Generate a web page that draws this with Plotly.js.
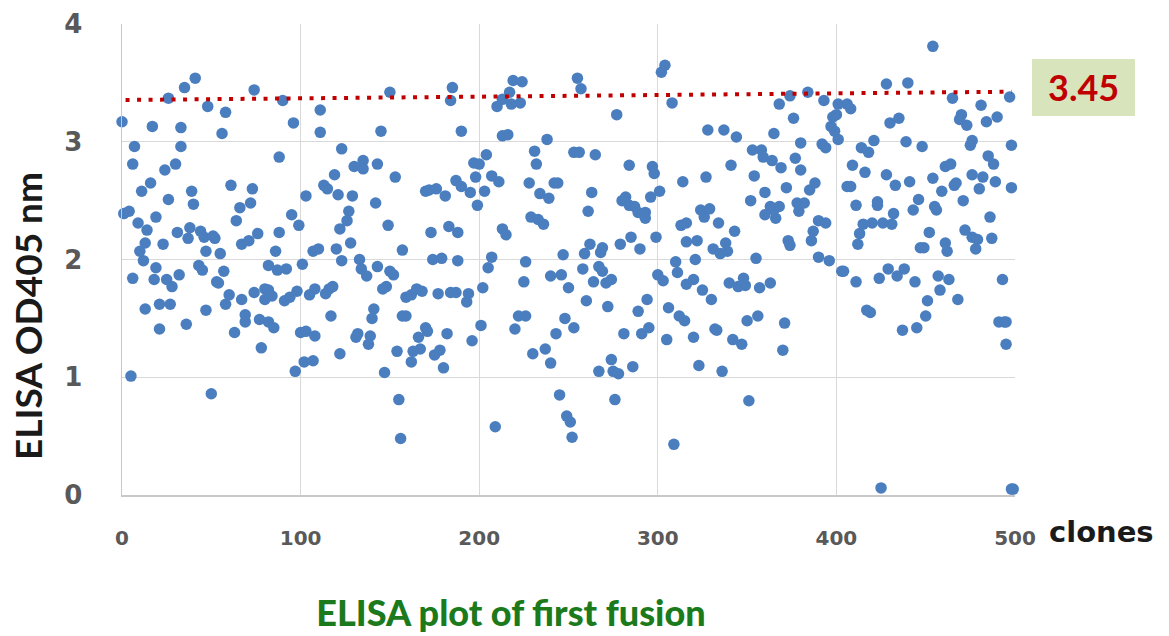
<!DOCTYPE html>
<html>
<head>
<meta charset="utf-8">
<script src="https://cdn.plot.ly/plotly-3.0.1.min.js"></script>
<style>html,body{margin:0;padding:0;background:#fff;}#chart{width:1169px;height:636px;}</style>
</head>
<body>
<div id="chart"></div>
<script>
// Clone number (x) and ELISA OD405 reading (y)
const cloneIds = [
  0,7,6,17,26,35,41,48,33,33,56,58,30,24,16,11,39,40,26,1,4,9,14,19,13,10,12,23,31,37,38,44,46,51,52,47,55,19,6,18,25,28,32,43,45,57,53,54,13,21,27,21,36,47,58,60,5,50,
  74,90,96,111,111,88,61,73,66,72,64,95,99,103,113,115,119,121,123,67,71,76,88,86,82,87,92,101,107,110,120,123,122,67,74,80,82,80,84,91,94,98,105,108,114,116,118,69,69,77,82,85,63,78,100,103,108,117,122,102,107,97,
  150,185,184,145,130,135,135,143,153,129,142,127,126,149,170,172,176,181,187,183,188,173,128,157,133,134,137,143,150,152,174,179,188,146,148,159,162,165,168,177,184,187,141,140,157,159,132,131,139,138,170,171,166,167,163,162,154,175,178,182,180,147,155,156,
  190,219,224,217,210,213,218,223,213,216,238,204,197,200,198,190,195,203,207,211,199,231,232,228,234,239,242,244,229,233,236,253,213,215,207,205,202,226,225,247,240,246,250,194,193,222,226,220,201,196,248,253,243,237,230,240,245,249,251,252,209,
  255,257,277,302,304,308,256,265,284,297,298,314,263,261,280,282,284,287,289,293,293,296,301,313,316,316,299,285,279,290,262,259,268,269,258,267,269,271,274,264,260,272,300,303,310,311,316,294,289,306,312,315,281,291,295,305,274,267,275,278,286,276,309,
  368,374,376,328,337,344,365,380,341,327,353,358,359,364,369,354,377,380,360,352,372,378,379,360,363,365,368,366,324,326,329,334,343,373,374,322,331,335,338,339,321,355,320,325,330,340,345,348,349,357,363,320,332,333,342,347,350,356,371,370,323,336,351,
  384,393,428,440,401,406,408,398,400,397,399,401,430,435,421,439,392,394,414,418,409,416,428,433,441,388,385,406,408,382,411,423,423,432,443,390,394,387,386,415,420,426,431,413,412,390,396,447,403,404,411,424,429,434,438,444,417,419,437,445,425,
  454,465,481,497,470,469,473,484,490,448,475,476,498,485,488,461,464,476,482,489,454,459,466,467,480,498,446,455,456,471,486,452,449,461,462,472,476,479,478,487,457,458,463,468,451,450,493,491,494,495,495,499,498
];
const od405 = [
  3.17,2.96,2.81,3.13,3.37,3.46,3.54,3.30,3.12,2.96,3.07,3.25,2.81,2.76,2.65,2.58,2.58,2.47,2.51,2.39,2.41,2.31,2.25,2.36,2.14,2.07,1.99,2.13,2.23,2.18,2.27,2.24,2.19,2.20,2.18,2.07,2.05,1.93,1.84,1.83,1.83,1.77,1.87,1.95,1.91,1.90,1.81,1.80,1.58,1.62,1.62,1.41,1.45,1.57,1.62,1.70,1.01,0.86,
  3.44,3.35,3.16,3.27,3.08,2.87,2.63,2.60,2.44,2.48,2.33,2.38,2.29,2.54,2.63,2.60,2.72,2.55,2.94,2.13,2.16,2.22,2.23,2.07,1.95,1.91,1.92,1.96,2.07,2.09,2.09,1.99,2.26,1.66,1.72,1.75,1.74,1.66,1.69,1.65,1.68,1.73,1.70,1.75,1.71,1.75,1.77,1.53,1.47,1.49,1.47,1.42,1.38,1.25,1.38,1.39,1.35,1.52,1.20,1.13,1.14,1.05,
  3.42,3.46,3.35,3.09,2.79,2.84,2.77,2.81,2.70,2.54,2.48,2.41,2.33,2.29,2.58,2.59,2.60,2.54,2.67,2.28,2.23,2.23,2.14,2.08,2.00,1.92,1.86,1.94,1.90,1.87,2.00,2.01,1.99,1.75,1.77,1.68,1.70,1.75,1.73,1.71,1.72,1.72,1.58,1.50,1.52,1.52,1.37,1.34,1.35,1.28,1.42,1.39,1.34,1.24,1.22,1.13,1.22,1.19,1.23,1.37,1.08,1.04,0.81,0.48,
  3.09,3.52,3.51,3.42,3.30,3.36,3.32,3.33,3.05,3.06,3.02,2.89,2.82,2.81,2.70,2.62,2.57,2.58,2.71,2.66,2.46,2.92,2.81,2.65,2.56,2.52,2.65,2.65,2.36,2.34,2.30,2.91,2.26,2.21,2.02,1.93,1.76,1.98,1.81,2.04,1.86,1.87,1.76,1.71,1.64,1.52,1.52,1.41,1.44,1.31,1.50,1.42,1.37,1.24,1.20,1.12,0.85,0.67,0.62,0.49,0.58,
  3.54,3.45,3.23,3.59,3.65,3.33,2.91,2.89,2.80,2.79,2.73,2.66,2.57,2.41,2.50,2.53,2.46,2.45,2.40,2.40,2.35,2.53,2.58,2.29,2.31,2.15,2.19,2.19,2.13,2.09,2.13,2.05,2.06,2.10,1.92,1.94,1.90,1.80,1.83,1.81,1.65,1.60,1.87,1.82,1.98,1.89,1.79,1.66,1.56,1.59,1.52,1.48,1.37,1.37,1.42,1.32,1.15,1.05,1.05,1.03,1.09,0.81,0.43,
  3.32,3.39,3.20,3.10,3.10,3.04,3.07,2.99,2.80,2.70,2.93,2.93,2.87,2.84,2.78,2.71,2.86,2.76,2.57,2.50,2.61,2.48,2.41,2.38,2.45,2.42,2.45,2.35,2.42,2.36,2.43,2.31,2.24,2.16,2.12,2.16,2.09,2.05,2.14,2.07,2.00,2.01,1.83,1.74,1.66,1.80,1.77,1.84,1.78,1.76,1.80,1.34,1.41,1.40,1.32,1.28,1.48,1.52,1.46,1.23,1.10,1.05,0.80,
  3.42,3.35,3.49,3.50,3.32,3.32,3.28,3.21,3.23,3.13,3.09,3.02,3.16,3.20,3.01,3.00,2.98,2.95,2.95,2.91,2.80,2.74,2.72,2.63,2.66,2.65,2.59,2.62,2.62,2.48,2.46,2.49,2.46,2.39,2.42,2.33,2.31,2.24,2.16,2.30,2.31,2.31,2.30,2.22,2.13,2.02,1.99,2.10,1.90,1.90,1.81,1.84,1.92,1.86,1.92,1.81,1.57,1.55,1.40,1.42,0.06,
  3.81,3.37,3.31,3.38,3.23,3.19,3.14,3.17,3.21,2.96,2.97,3.01,2.97,2.88,2.81,2.79,2.81,2.72,2.70,2.66,2.69,2.58,2.63,2.65,2.60,2.61,2.51,2.45,2.42,2.50,2.36,2.23,2.10,2.14,2.07,2.25,2.19,2.17,2.09,2.18,1.86,1.74,1.83,1.66,1.65,1.52,1.83,1.47,1.47,1.47,1.28,0.05,0.05
];

// Cut-off (dotted red) line
const cutoffX = [2, 498];
const cutoffY = [3.355, 3.425];
const cutoffLabel = '3.45';

// Axis ticks
const xTickVals = [0, 100, 200, 300, 400, 500];
const xTickText = ['0', '100', '200', '300', '400', '500'];
const yTickVals = [0, 1, 2, 3, 4];
const yTickText = ['0', '1', '2', '3', '4'];

const chartTitle = 'ELISA plot of first fusion';
const yTitle = 'ELISA OD405 nm';
const xTitle = 'clones';

const traces = [
  {
    type: 'scatter', mode: 'markers',
    x: cloneIds, y: od405,
    marker: {size: 11.5, color: '#4a7ebf', line: {width: 0}},
    cliponaxis: false, hoverinfo: 'x+y'
  },
  {
    type: 'scatter', mode: 'lines',
    x: cutoffX, y: cutoffY,
    line: {color: '#c00000', width: 4, dash: '4px,7.5px'},
    cliponaxis: false, hoverinfo: 'skip'
  }
];

// plot area: left 122, right 1015, top 24, bottom 495
const L = 122, R = 1015, T = 24, B = 495;
const px = v => (v - L) / (R - L);
const py = v => (B - v) / (B - T);

const layout = {
  width: 1169, height: 636,
  margin: {l: L, r: 1169 - R, t: T, b: 636 - B, pad: 0},
  paper_bgcolor: '#ffffff', plot_bgcolor: '#ffffff',
  showlegend: false,
  title: {
    text: chartTitle,
    font: {family: 'Lato, "Open Sans", sans-serif', size: 36, color: '#1b7a1b', weight: 900},
    xref: 'container', yref: 'container', x: 511 / 1169, y: 1 - 613 / 636,
    xanchor: 'center', yanchor: 'middle'
  },
  xaxis: {
    range: [0, 500], tickmode: 'array', tickvals: xTickVals, ticktext: xTickText,
    showgrid: true, gridcolor: '#d9d9d9', gridwidth: 1.3,
    zeroline: false, showline: true, linecolor: '#c8c8c8', linewidth: 1.5,
    ticks: 'outside', ticklen: 24, tickcolor: 'rgba(0,0,0,0)',
    tickfont: {family: '"DejaVu Sans", sans-serif', size: 20, color: '#595959', weight: 700},
    fixedrange: true
  },
  yaxis: {
    range: [0, 4], tickmode: 'array', tickvals: yTickVals, ticktext: yTickText,
    showgrid: true, gridcolor: '#d9d9d9', gridwidth: 1.3,
    zeroline: false, showline: true, linecolor: '#c8c8c8', linewidth: 1.5,
    ticks: 'outside', ticklen: 33, tickcolor: 'rgba(0,0,0,0)',
    tickfont: {family: '"DejaVu Sans", sans-serif', size: 26, color: '#595959', weight: 700},
    fixedrange: true
  },
  shapes: [
    {type: 'rect', xref: 'paper', yref: 'paper',
     x0: px(1032), x1: px(1135), y0: py(116), y1: py(59),
     fillcolor: '#d8e4bc', line: {width: 0}, layer: 'below'}
  ],
  annotations: [
    {text: cutoffLabel, xref: 'paper', yref: 'paper', x: px(1083.5), y: py(87.5),
     xanchor: 'center', yanchor: 'middle', showarrow: false,
     font: {family: 'Lato, "Open Sans", sans-serif', size: 36, color: '#c00000', weight: 700}},
    {text: xTitle, xref: 'paper', yref: 'paper', x: px(1047), y: py(532),
     xanchor: 'left', yanchor: 'middle', showarrow: false,
     font: {family: '"DejaVu Sans", sans-serif', size: 29, color: '#1a1a1a', weight: 700}},
    {text: yTitle, xref: 'paper', yref: 'paper', x: px(27), y: py(316),
     xanchor: 'center', yanchor: 'middle', showarrow: false, textangle: -90,
     font: {family: 'Lato, "Open Sans", sans-serif', size: 37, color: '#1a1a1a', weight: 700}}
  ]
};

Plotly.newPlot('chart', traces, layout, {displayModeBar: false, staticPlot: true});
</script>
</body>
</html>
